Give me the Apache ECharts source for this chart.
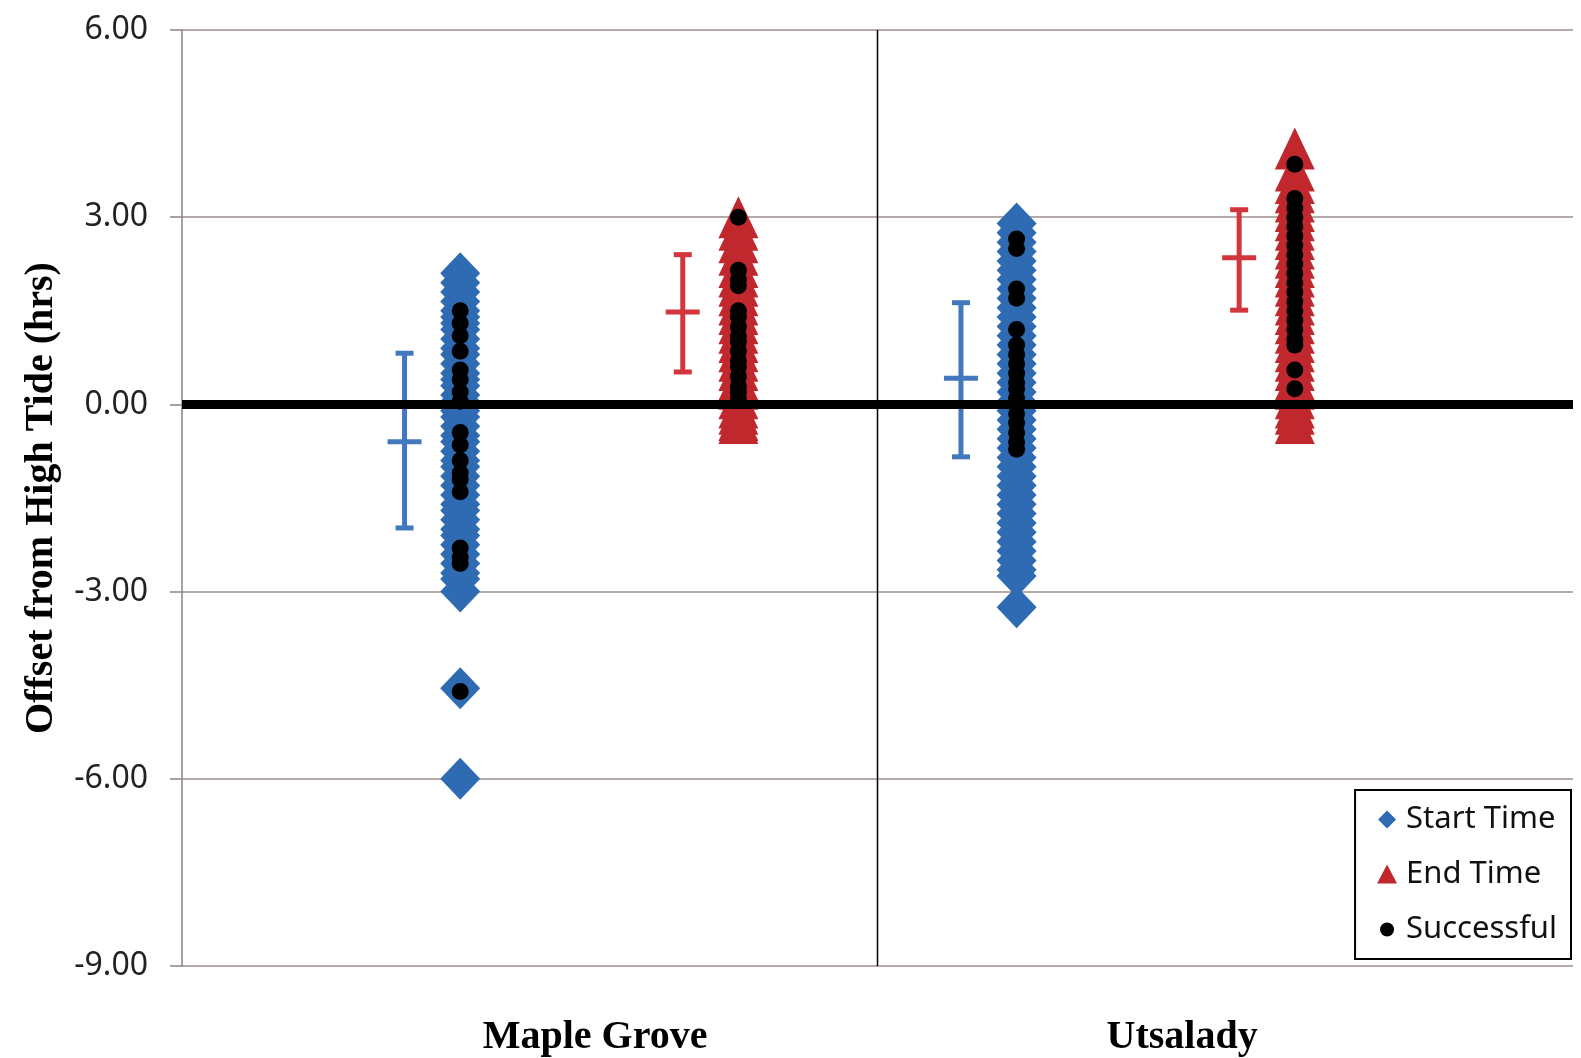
<!DOCTYPE html>
<html>
<head>
<meta charset="utf-8">
<script src="https://cdn.jsdelivr.net/npm/echarts@6/dist/echarts.min.js"></script>
<style>
  html, body { margin: 0; padding: 0; background: #fff; }
  #chart { width: 1581px; height: 1058px; }
</style>
</head>
<body>
<div id="chart"></div>
<script>
// sites on the x axis (value axis 0..2, divider at 1)
var sites = ['Maple Grove', 'Utsalady'];
var siteLabelX = [0.594, 1.438];

// x of the scatter columns per site
var startX = [0.4, 1.2];
var endX = [0.8, 1.6];

// start times (hrs from high tide)
var mgStartY = [2.1, 1.95, 1.8, 1.65, 1.5, 1.4, 1.3, 1.2, 1.05, 0.9, 0.8, 0.65, 0.5, 0.4, 0.3, 0.15, 0.05,
  -0.1, -0.2, -0.35, -0.5, -0.6, -0.75, -0.9, -1.0, -1.15, -1.3, -1.45, -1.6, -1.7, -1.85, -2.0,
  -2.1, -2.25, -2.4, -2.55, -2.7, -2.8, -3.0, -4.55, -6.0];
var utStartY = [2.9, 2.75, 2.6, 2.45, 2.3, 2.15, 2.0, 1.85, 1.7, 1.55, 1.4, 1.25, 1.1, 0.95, 0.8, 0.65,
  0.5, 0.35, 0.2, 0.05, -0.1, -0.25, -0.4, -0.55, -0.7, -0.85, -1.0, -1.15, -1.3, -1.45, -1.6,
  -1.75, -1.9, -2.05, -2.2, -2.35, -2.5, -2.65, -2.75, -3.25];

// end times
var mgEndY = [3.0, 2.8, 2.6, 2.4, 2.2, 2.05, 1.9, 1.75, 1.6, 1.45, 1.3, 1.15, 1.0, 0.85, 0.7, 0.55,
  0.4, 0.25, 0.1, -0.05, -0.15, -0.25, -0.3];
var utEndY = [4.1, 3.75, 3.55, 3.4, 3.25, 3.1, 2.95, 2.8, 2.65, 2.5, 2.35, 2.2, 2.05, 1.9, 1.75, 1.6,
  1.45, 1.3, 1.15, 1.0, 0.85, 0.7, 0.55, 0.4, 0.25, 0.1, -0.05, -0.15, -0.3];

// successful attempts
var mgStartOkY = [1.5, 1.3, 1.1, 0.85, 0.55, 0.4, 0.2, 0.05, -0.45, -0.65, -0.9, -1.1, -1.2, -1.4,
  -2.3, -2.45, -2.55, -4.6];
var mgEndOkY = [3.0, 2.15, 2.0, 1.9, 1.5, 1.4, 1.25, 1.1, 1.0, 0.85, 0.7, 0.6, 0.45, 0.3, 0.2, 0.1];
var utStartOkY = [2.65, 2.5, 1.85, 1.7, 1.2, 0.95, 0.8, 0.65, 0.5, 0.35, 0.25, 0.1, 0.0, -0.15, -0.3,
  -0.45, -0.6, -0.72];
var utEndOkY = [3.85, 3.3, 3.15, 3.0, 2.85, 2.7, 2.55, 2.4, 2.25, 2.1, 1.95, 1.8, 1.65, 1.5, 1.35,
  1.2, 1.05, 0.95, 0.55, 0.25];

// error bars (low, mean, high) per site
var errOffset = 0.08;
var startErrLow = [-1.98, -0.84];
var startErrMean = [-0.6, 0.42];
var startErrHigh = [0.82, 1.63];
var endErrLow = [0.52, 1.51];
var endErrMean = [1.48, 2.35];
var endErrHigh = [2.4, 3.12];

var yTicks = { min: -9, max: 6, interval: 3 };

function pts(x, ys) {
  return ys.map(function (y) { return [x, y]; });
}

function errData(xs, lo, mid, hi) {
  return xs.map(function (x, i) { return [x - errOffset, lo[i], mid[i], hi[i]]; });
}

function renderErr(params, api) {
  var x = api.value(0);
  var pLo = api.coord([x, api.value(1)]);
  var pMid = api.coord([x, api.value(2)]);
  var pHi = api.coord([x, api.value(3)]);
  var color = api.visual('color');
  var style = { stroke: color, lineWidth: 5 };
  var cap = 9, mean = 17;
  return {
    type: 'group',
    children: [
      { type: 'line', shape: { x1: pHi[0], y1: pHi[1], x2: pLo[0], y2: pLo[1] }, style: style },
      { type: 'line', shape: { x1: pHi[0] - cap, y1: pHi[1], x2: pHi[0] + cap, y2: pHi[1] }, style: style },
      { type: 'line', shape: { x1: pLo[0] - cap, y1: pLo[1], x2: pLo[0] + cap, y2: pLo[1] }, style: style },
      { type: 'line', shape: { x1: pMid[0] - mean, y1: pMid[1], x2: pMid[0] + mean, y2: pMid[1] }, style: style }
    ]
  };
}

var blue = '#2f6bb3';
var red = '#c0282e';
var sansFont = '"Noto Sans", sans-serif';
var serifFont = '"Liberation Serif", "DejaVu Serif", serif';

// legend icons padded inside a 24x24 box so they draw smaller
var iconDiamond = 'path://M0,0M24,24M12,3L21,12L12,21L3,12Z';
var iconTriangle = 'path://M0,0M24,24M12,2L22,21L2,21Z';
var iconDot = 'path://M0,0M24,24M5,12A7,7,0,1,0,19,12A7,7,0,1,0,5,12Z';

var chart = echarts.init(document.getElementById('chart'));

var option = {
  backgroundColor: '#fff',
  animation: false,
  grid: { left: 182, right: 8, top: 30, bottom: 92 },
  legend: {
    orient: 'vertical',
    right: 10,
    top: 790,
    data: [
      { name: 'Start Time', icon: iconDiamond },
      { name: 'End Time', icon: iconTriangle },
      { name: 'Successful', icon: iconDot }
    ],
    backgroundColor: '#fff',
    borderColor: '#000',
    borderWidth: 2,
    padding: [14, 14, 14, 20],
    itemGap: 24,
    itemWidth: 24,
    itemHeight: 24,
    textStyle: { fontFamily: sansFont, fontSize: 31, color: '#111', padding: [0, 0, 0, 2] }
  },
  xAxis: {
    type: 'value',
    min: 0,
    max: 2,
    axisLine: { show: false },
    axisTick: { show: false },
    splitLine: { show: false },
    axisLabel: {
      customValues: siteLabelX,
      margin: 52,
      fontFamily: serifFont,
      fontWeight: 'bold',
      fontSize: 40,
      color: '#000',
      formatter: function (v) {
        return v < 1 ? sites[0] : sites[1];
      }
    }
  },
  yAxis: {
    type: 'value',
    min: yTicks.min,
    max: yTicks.max,
    interval: yTicks.interval,
    name: 'Offset from High Tide (hrs)',
    nameLocation: 'middle',
    nameGap: 120,
    nameTextStyle: { fontFamily: serifFont, fontWeight: 'bold', fontSize: 40, color: '#000' },
    axisLine: { show: true, lineStyle: { color: '#8c8282', width: 1.5 } },
    axisTick: { show: true, length: 12, lineStyle: { color: '#8c8282', width: 1.5 } },
    axisLabel: {
      margin: 34,
      fontFamily: sansFont,
      fontSize: 32,
      color: '#222',
      formatter: function (v) { return v.toFixed(2); }
    },
    splitLine: { lineStyle: { color: '#9b8f8c', width: 1.5 } }
  },
  series: [
    {
      name: 'Start Time',
      type: 'scatter',
      symbol: 'diamond',
      symbolSize: [40, 42],
      itemStyle: { color: blue, opacity: 1 },
      z: 2,
      data: pts(startX[0], mgStartY).concat(pts(startX[1], utStartY))
    },
    {
      name: 'End Time',
      type: 'scatter',
      symbol: 'triangle',
      symbolSize: [40, 42],
      itemStyle: { color: red, opacity: 1 },
      z: 2,
      data: pts(endX[0], mgEndY).concat(pts(endX[1], utEndY))
    },
    {
      name: 'zero',
      type: 'line',
      symbol: 'none',
      silent: true,
      z: 3,
      lineStyle: { color: '#000', width: 9 },
      data: [[0, 0], [2, 0]]
    },
    {
      name: 'divider',
      type: 'line',
      symbol: 'none',
      silent: true,
      z: 3,
      lineStyle: { color: '#000', width: 1.5 },
      data: [[1, yTicks.max], [1, yTicks.min]]
    },
    {
      name: 'Successful',
      type: 'scatter',
      symbol: 'circle',
      symbolSize: 17,
      itemStyle: { color: '#000', opacity: 1 },
      z: 4,
      data: pts(startX[0], mgStartOkY).concat(pts(endX[0], mgEndOkY),
        pts(startX[1], utStartOkY), pts(endX[1], utEndOkY))
    },
    {
      name: 'Start err',
      type: 'custom',
      renderItem: renderErr,
      itemStyle: { color: '#4278bd' },
      z: 3,
      data: errData(startX, startErrLow, startErrMean, startErrHigh)
    },
    {
      name: 'End err',
      type: 'custom',
      renderItem: renderErr,
      itemStyle: { color: '#d3353d' },
      z: 3,
      data: errData(endX, endErrLow, endErrMean, endErrHigh)
    }
  ]
};

chart.setOption(option);
</script>
</body>
</html>
